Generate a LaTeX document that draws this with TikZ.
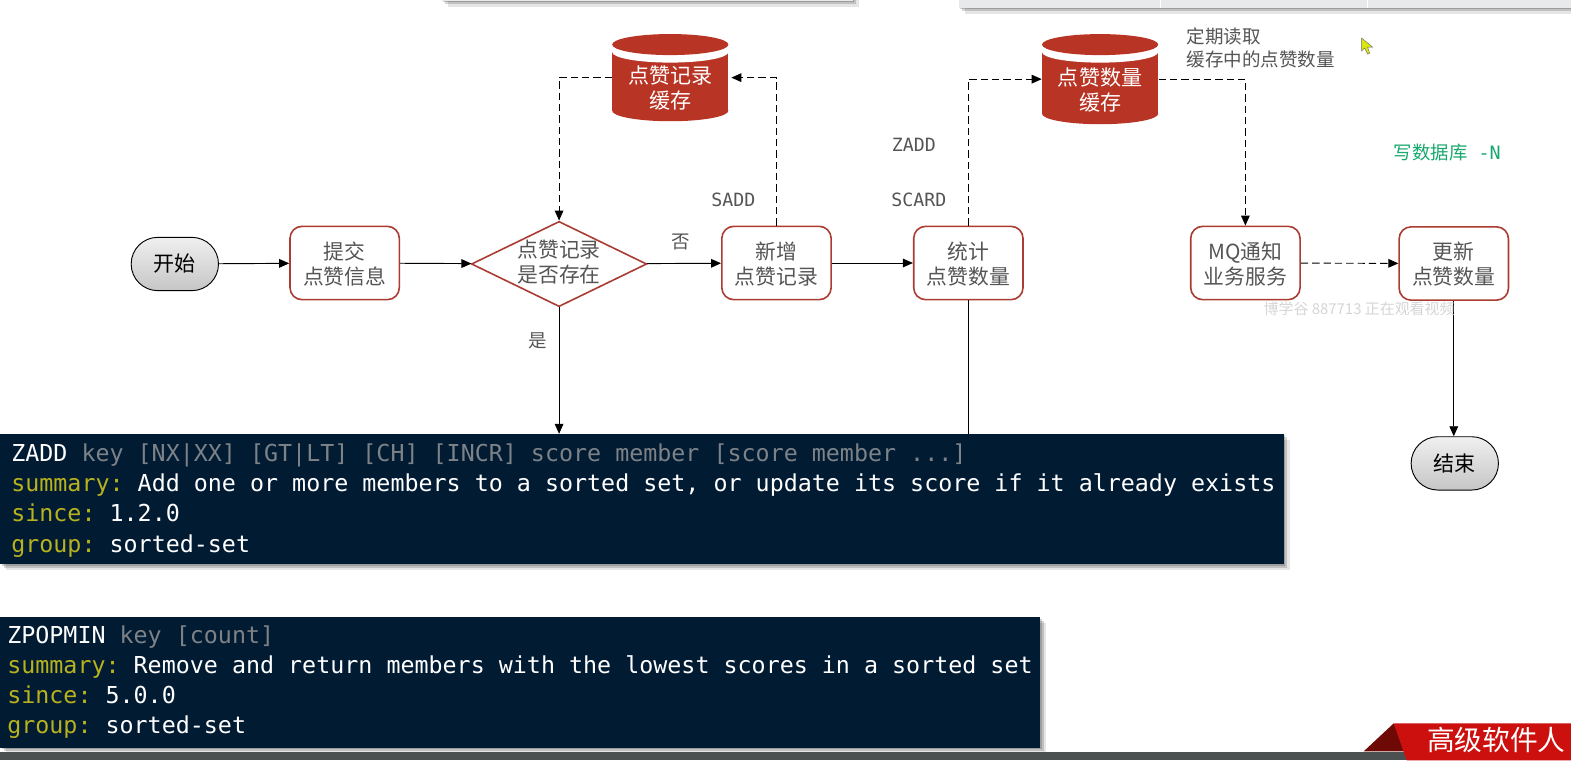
\documentclass[tikz,border=0pt]{standalone}
\usepackage{fontspec}
\setmainfont{Noto Sans CJK SC}
\newfontfamily\zmono{DejaVu Sans Mono}
\usetikzlibrary{arrows.meta,calc,shapes.geometric,shapes.misc,shadows}
\definecolor{LKred}{RGB}{184,52,36}
\definecolor{LKedge}{RGB}{170,60,50}
\definecolor{LKtext}{RGB}{85,85,85}
\definecolor{LKnavy}{RGB}{1,27,51}
\definecolor{LKkey}{RGB}{125,130,135}
\definecolor{LKyellow}{RGB}{184,178,30}
\definecolor{LKgreen}{RGB}{24,168,110}
\definecolor{LKsheet}{RGB}{232,233,235}
\definecolor{LKbar}{RGB}{75,80,80}
\definecolor{LKbanner}{RGB}{204,16,14}
\definecolor{LKfold}{RGB}{110,10,5}
\tikzset{
  softshadow/.style={
    drop shadow={shadow xshift=1pt,shadow yshift=-1pt,opacity=.18,fill=black},
    drop shadow={shadow xshift=2.5pt,shadow yshift=-2.5pt,opacity=.16,fill=black},
    drop shadow={shadow xshift=4.5pt,shadow yshift=-4.5pt,opacity=.10,fill=black}},
  termbox/.style={rounded rectangle,draw=black,line width=.7pt,top color=gray!12,bottom color=gray!45,
                  minimum width=65.5pt,minimum height=40pt,inner sep=0pt,text=black,font=\fontsize{15.8}{19}\selectfont},
  taskbox/.style={rectangle,rounded corners=9pt,draw=LKedge,line width=1.2pt,fill=white,text=LKtext,align=center,
                  minimum width=82pt,minimum height=55pt,inner sep=0pt,font=\fontsize{15.6}{18.8}\selectfont,
                  text depth=-4pt},
  decide/.style={diamond,draw=LKedge,line width=1.2pt,fill=white,minimum width=131.5pt,minimum height=64pt,inner sep=0pt},
  cachedb/.style={rectangle,inner sep=0pt,minimum width=87.2pt,path picture={
      \fill[LKred] ($(path picture bounding box.north west)+(0,18)$) rectangle ($(path picture bounding box.south east)+(0,-10.5)$);
      \fill[LKred] ($(path picture bounding box.south)+(0,-10.5)$) ellipse [x radius=58,y radius=10.5];
      \fill[white] ($(path picture bounding box.north)+(0,18)$) ellipse [x radius=58,y radius=10.5];
      \fill[LKred] ($(path picture bounding box.north)+(0,10.5)$) ellipse [x radius=58,y radius=10.5];}},
  cachetext/.style={yshift=-8pt,inner sep=0pt,text=white,align=center,font=\fontsize{15.8}{19}\selectfont},
  decidetext/.style={yshift=1.5pt,inner sep=0pt,text=LKtext,align=center,font=\fontsize{15.6}{18.8}\selectfont},
  note/.style={inner sep=0pt,text=LKtext,align=left,font=\fontsize{13.9}{17.3}\selectfont},
  cmdnote/.style={inner sep=0pt,text=LKtext,font=\zmono\fontsize{13.7}{16}\selectfont},
  panel/.style={rectangle,anchor=north west,fill=LKnavy,inner sep=0pt,minimum height=97.7pt,softshadow},
  paneltext/.style={anchor=west,inner sep=0pt,text=white,align=left,font=\zmono\fontsize{17.5}{22.6}\selectfont},
  fl/.style={-{Triangle[length=7.5pt,width=6.5pt]},line width=.7pt,draw=black},
  dfl/.style={fl,dash pattern=on 5.5pt off 3pt},
}
\newcommand{\kw}[1]{{\color{LKkey}#1}}
\newcommand{\fld}[1]{{\color{LKyellow}#1}}

\begin{document}
\frenchspacing
\begin{tikzpicture}[x=0.7515pt,y=-0.7515pt]
    \useasboundingbox (0,0) rectangle (1568,759);
    \fill[white] (0,0) rectangle (1568,759);

    \fill[LKsheet,softshadow] (441,-8) rectangle (851,1);
    \fill[LKsheet,softshadow] (957,-8) rectangle (1575,8);
    \draw[white,line width=.8pt] (1158,0) -- (1158,8) (1365,0) -- (1365,8);

    \node[termbox] (start) at (174.5,263.5) {开始};
    \node[taskbox] (submit) at (344,262.5) {提交\\点赞信息};
    \node[decide,label={[decidetext]center:点赞记录\\是否存在}] (exists) at (558,263.5) {};
    \node[taskbox] (newrec) at (775,262.5) {新增\\点赞记录};
    \node[taskbox] (count) at (966.5,262.5) {统计\\点赞数量};
    \node[taskbox] (mq) at (1243,262.5) {MQ通知\\业务服务};
    \node[taskbox] (update) at (1451,263) {更新\\点赞数量};
    \node[termbox] (finish) at (1452,462.5) {结束};
    \node[cachedb,minimum height=65.4pt,label={[cachetext]center:点赞记录\\缓存}] (recdb) at (669,77.5) {};
    \node[cachedb,minimum height=67.6pt,label={[cachetext]center:点赞数量\\缓存}] (cntdb) at (1098,79) {};

    \node[panel,minimum width=962.7pt] (zaddbox) at (0,433) {};
    \node[panel,minimum width=780pt] (popbox) at (0,616) {};

    \draw[fl] (start) -- (submit);
    \draw[fl] (submit) -- (exists);
    \draw[fl] (exists) -- (newrec);
    \draw[fl] (newrec) -- (count);
    \draw[fl] (exists.south) -- (exists.south |- zaddbox.north);
    \draw[line width=.7pt] (count.south) -- (count.south |- zaddbox.north);
    \draw[fl] (update.south) -- (finish.north -| update.south);
    \draw[dfl] (recdb.west) -| (exists.north);
    \draw[dfl] (newrec.north) |- ([xshift=2pt]recdb.east);
    \draw[dfl] (count.north) |- (cntdb.west);
    \draw[dfl] (cntdb.east) -| (mq.north);
    \draw[dfl] (mq) -- (update);

    \node[note] (no) at (679,242) {否};
    \node[note] (yes) at (537,340) {是};
    \node[cmdnote] (sadd) at (732,199) {SADD};
    \node[cmdnote] (zadd) at (912,145) {ZADD};
    \node[cmdnote] (scard) at (917,199) {SCARD};
    \node[note,anchor=west] (readnote) at (1184,47.5) {定期读取\\缓存中的点赞数量};
    \node[anchor=west,inner sep=0pt,text=LKgreen,font=\fontsize{13.8}{17}\selectfont] (writenote) at (1391,152) {写数据库{\zmono\ -N}};
    \node[anchor=west,inner sep=0pt,text=black!16,font=\fontsize{11.2}{14}\selectfont] (mark) at (1261,308) {博学谷 887713 正在观看视频};

    \node[paneltext] (zaddtxt) at (11,499.5) {ZADD \kw{key [NX|XX] [GT|LT] [CH] [INCR] score member [score member ...]}\\
      \fld{summary:} Add one or more members to a sorted set, or update its score if it already exists\\
      \fld{since:} 1.2.0\\
      \fld{group:} sorted-set};
    \node[paneltext] (poptxt) at (7,681) {ZPOPMIN \kw{key [count]}\\
      \fld{summary:} Remove and return members with the lowest scores in a sorted set\\
      \fld{since:} 5.0.0\\
      \fld{group:} sorted-set};

    \fill[LKbar] (0,751) rectangle (1568,759);
    \fill[LKfold] (1361,750) -- (1391,722) -- (1404,750) -- cycle;
    \fill[LKbanner] (1391,722) -- (1568,722) -- (1568,759) -- (1404,759) -- cycle;
    \node[anchor=west,inner sep=0pt,text=white,font=\fontsize{20.8}{24}\selectfont] (banner) at (1424,738.5) {高级软件人};

    \fill[yellow!85!green,draw=black!60,line width=.3pt] (1359,38) -- (1359,51) -- (1362,48) -- (1365,54) -- (1367,53) -- (1365,47) -- (1370,47) -- cycle;
  \end{tikzpicture}
\end{document}
